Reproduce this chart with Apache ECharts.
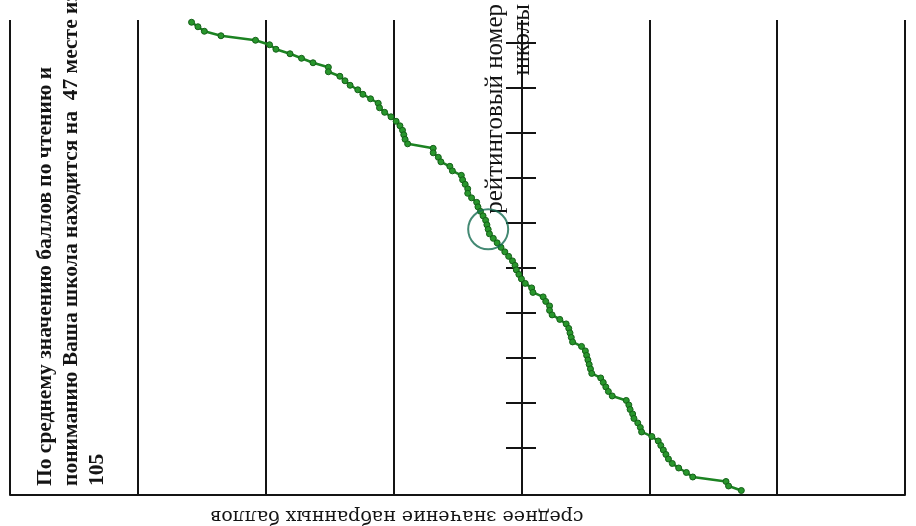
<!DOCTYPE html>
<html>
<head>
<meta charset="utf-8">
<script src="https://cdn.jsdelivr.net/npm/echarts@6/dist/echarts.min.js"></script>
<style>
html,body{margin:0;padding:0;background:#fff;}
#chart{width:916px;height:526px;}
</style>
</head>
<body>
<div id="chart"></div>
<script>
// Average score of each school, ordered by rank 1..105
const avgScores = [
  485.8,485.3,484.8,483.5,480.8,479.7,479.2,478.1,477.2,476.3,
  475.1,475.1,474.2,473.8,473.4,472.8,472.4,471.8,471.2,471.1,
  470.7,470.2,469.8,469.5,469.3,469.2,469.1,468.9,466.9,466.9,
  466.5,466.3,465.6,465.4,464.7,464.6,464.4,464.2,464.2,463.9,
  463.5,463.4,463.2,463.0,462.8,462.7,462.6,462.5,462.2,461.9,
  461.6,461.3,461.0,460.7,460.5,460.4,460.2,460.0,459.7,459.2,
  459.1,458.3,458.1,457.8,457.8,457.6,457.0,456.5,456.3,456.2,
  456.1,456.0,455.3,455.0,454.9,454.8,454.7,454.6,454.5,453.8,
  453.6,453.4,453.2,452.9,451.8,451.6,451.5,451.3,451.2,450.9,
  450.7,450.6,449.8,449.3,449.1,448.9,448.7,448.5,448.2,447.7,
  447.1,446.6,444.0,443.8,442.8
];
const schoolRank = 47;
const totalSchools = 105;
const rankTicks = [5.5,15.5,25.5,35.5,45.5,55.5,65.5,75.5,85.5,95.5];
const scoreMin = 430, scoreMax = 500, scoreStep = 10;
const rankMin = 0.5, rankMax = 106;

const infoText = 'По среднему значению баллов по чтению и\nпониманию Ваша школа находится на  ' +
  schoolRank + ' месте из\n' + totalSchools;
const rankTitle = 'рейтинговый номер\nшколы';
const scoreTitle = 'среднее значение набранных баллов';

const chart = echarts.init(document.getElementById('chart'), null, {renderer: 'canvas'});
const ink = '#141414';
const seriesData = avgScores.map((s, i) => [s, i + 1]);

const rankAxisBase = {
  type: 'value', inverse: true, min: rankMin, max: rankMax,
  position: 'left', offset: -511,
  axisLine: {show: false},
  axisLabel: {show: false},
  splitLine: {show: false}
};

chart.setOption({
  animation: false,
  backgroundColor: '#ffffff',
  grid: {left: 10, right: 11, top: 20, bottom: 31, containLabel: false},
  xAxis: {
    type: 'value', inverse: true, min: scoreMin, max: scoreMax, interval: scoreStep,
    axisLine: {show: true, lineStyle: {color: ink, width: 2}},
    axisTick: {show: false},
    axisLabel: {show: false},
    splitLine: {show: true, lineStyle: {color: ink, width: 2}}
  },
  yAxis: [
    Object.assign({}, rankAxisBase, {
      axisTick: {show: true, inside: false, length: 15, customValues: rankTicks,
                 lineStyle: {color: ink, width: 2}}
    }),
    Object.assign({}, rankAxisBase, {
      axisTick: {show: true, inside: true, length: 15, customValues: rankTicks,
                 lineStyle: {color: ink, width: 2}}
    })
  ],
  series: [
    {
      type: 'line',
      data: seriesData,
      yAxisIndex: 0,
      symbol: 'circle',
      symbolSize: 6,
      lineStyle: {color: '#1c8322', width: 2.5},
      itemStyle: {color: '#28962c', borderColor: '#146018', borderWidth: 1},
      z: 3
    },
    {
      type: 'scatter',
      yAxisIndex: 0,
      data: [[avgScores[schoolRank - 1], schoolRank]],
      symbol: 'circle',
      symbolSize: 40,
      itemStyle: {color: 'rgba(0,0,0,0)', borderColor: '#146b50', borderWidth: 2},
      z: 4
    }
  ],
  graphic: [
    {
      type: 'text', x: 32, y: 486, rotation: Math.PI / 2,
      style: {
        text: infoText, fill: ink,
        font: 'bold 21.5px "Liberation Serif", "Times New Roman", serif',
        lineHeight: 26, textAlign: 'left', textVerticalAlign: 'top'
      }
    },
    {
      type: 'text', x: 482, y: 4, rotation: Math.PI / 2,
      style: {
        text: rankTitle, fill: ink,
        font: '25px "Liberation Serif", "Times New Roman", serif',
        lineHeight: 27, textAlign: 'right', textVerticalAlign: 'top'
      }
    },
    {
      type: 'text', x: 397, y: 516, rotation: Math.PI,
      style: {
        text: scoreTitle, fill: ink,
        font: '19px "DejaVu Serif", serif',
        textAlign: 'center', textVerticalAlign: 'middle'
      }
    }
  ]
});
</script>
</body>
</html>
